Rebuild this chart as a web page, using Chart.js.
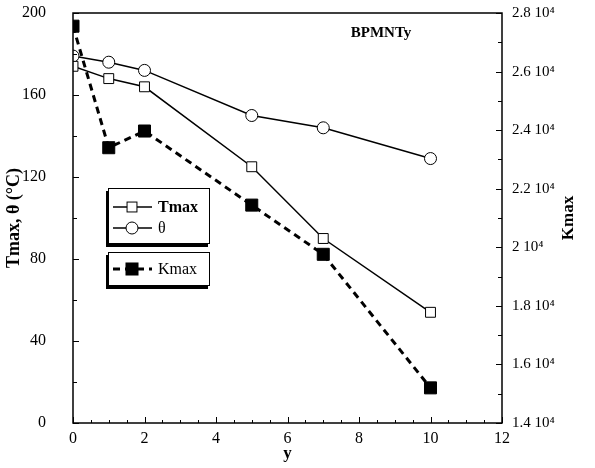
<!DOCTYPE html>
<html>
<head>
<meta charset="utf-8">
<script src="https://cdn.jsdelivr.net/npm/chart.js@4.4.1/dist/chart.umd.min.js"></script>
<style>
  html, body { margin: 0; padding: 0; background: #fff; }
  #wrap { width: 595px; height: 468px; }
</style>
</head>
<body>
<div id="wrap"><canvas id="chart" width="595" height="468"></canvas></div>
<script>
// composition y and measured values
const yValues = [0, 1, 2, 5, 7, 10];
const tmaxValues = [174, 168, 164, 125, 90, 54];
const thetaValues = [179, 176, 172, 150, 144, 129];
const kmaxValues = [27550, 23400, 23970, 21440, 19760, 15200];

const xTicks = [0, 2, 4, 6, 8, 10, 12];
const leftTicks = [0, 40, 80, 120, 160, 200];
const rightTicks = [14000, 16000, 18000, 20000, 22000, 24000, 26000, 28000];

const SERIF = '"Liberation Serif", "DejaVu Serif", serif';

function pts(vals) {
    return yValues.map((x, i) => ({ x: x, y: vals[i] }));
}

// fixed axis boxes so the plot area lands where it should
function fitVertical(width) {
    return s => { s.width = width; s.paddingTop = 0; s.paddingBottom = 0; };
}

// frame, inward ticks, legend boxes and the sample label
const decorPlugin = {
    id: 'decor',
    afterDraw(chart) {
        const ctx = chart.ctx;
        const a = chart.chartArea;
        const xs = chart.scales.x, yl = chart.scales.y, yr = chart.scales.y2;
        ctx.save();
        ctx.strokeStyle = '#000';
        ctx.lineWidth = 1.5;
        ctx.strokeRect(a.left, a.top, a.right - a.left, a.bottom - a.top);

        ctx.lineWidth = 1;
        ctx.beginPath();
        for (let v = 0; v <= 12.001; v += 0.5) {
            const px = Math.round(xs.getPixelForValue(v)) + 0.5;
            const len = (Math.abs(v % 2) < 0.01) ? 6 : 3;
            ctx.moveTo(px, a.bottom);
            ctx.lineTo(px, a.bottom - len);
        }
        for (let v = 0; v <= 200; v += 20) {
            const py = Math.round(yl.getPixelForValue(v)) + 0.5;
            const len = (v % 40 === 0) ? 6 : 4;
            ctx.moveTo(a.left, py);
            ctx.lineTo(a.left + len, py);
        }
        for (let v = 14000; v <= 28000; v += 1000) {
            const py = Math.round(yr.getPixelForValue(v)) + 0.5;
            const len = (v % 2000 === 0) ? 6 : 4;
            ctx.moveTo(a.right, py);
            ctx.lineTo(a.right - len, py);
        }
        ctx.stroke();

        // right axis title, reading upward
        ctx.fillStyle = '#000';
        ctx.font = 'bold 17px ' + SERIF;
        ctx.textAlign = 'center';
        ctx.textBaseline = 'middle';
        ctx.translate(569, (a.top + a.bottom) / 2);
        ctx.rotate(-Math.PI / 2);
        ctx.fillText('Kmax', 0, 0);
        ctx.setTransform(1, 0, 0, 1, 0, 0);

        ctx.font = 'bold 15px ' + SERIF;
        ctx.fillText('BPMNTy', 381, 33);

        // legend boxes with a dark offset shadow
        function box(x, y, w, h) {
            ctx.fillStyle = '#000';
            ctx.fillRect(x - 2, y + 3, w, h);
            ctx.fillStyle = '#fff';
            ctx.fillRect(x, y, w, h);
            ctx.strokeStyle = '#000';
            ctx.lineWidth = 1;
            ctx.strokeRect(x + 0.5, y + 0.5, w - 1, h - 1);
        }
        box(108, 188, 102, 56);
        box(108, 252, 102, 34);

        const items = [
            { ds: chart.data.datasets[0], y: 207, bold: true },
            { ds: chart.data.datasets[1], y: 228, bold: false },
            { ds: chart.data.datasets[2], y: 269, bold: false }
        ];
        items.forEach(it => {
            const ds = it.ds;
            ctx.strokeStyle = '#000';
            ctx.lineWidth = ds.borderWidth;
            ctx.setLineDash(ds.borderDash || []);
            ctx.beginPath();
            ctx.moveTo(113, it.y);
            ctx.lineTo(152, it.y);
            ctx.stroke();
            ctx.setLineDash([]);
            ctx.lineWidth = 1;
            ctx.fillStyle = ds.pointBackgroundColor;
            if (ds.pointStyle === 'rect') {
                const s = ds.pointRadius * Math.SQRT1_2;
                ctx.fillRect(132 - s, it.y - s, 2 * s, 2 * s);
                ctx.strokeRect(132 - s, it.y - s, 2 * s, 2 * s);
            } else {
                ctx.beginPath();
                ctx.arc(132, it.y, ds.pointRadius, 0, Math.PI * 2);
                ctx.fill();
                ctx.stroke();
            }
            ctx.fillStyle = '#000';
            ctx.textAlign = 'left';
            ctx.font = (it.bold ? 'bold ' : '') + '16px ' + SERIF;
            ctx.fillText(ds.label, 158, it.y + 1);
        });
        ctx.restore();
    }
};

new Chart(document.getElementById('chart'), {
    type: 'line',
    data: {
        datasets: [
            {
                label: 'Tmax',
                data: pts(tmaxValues),
                yAxisID: 'y',
                borderColor: '#000',
                borderWidth: 1.5,
                pointStyle: 'rect',
                pointRadius: 7,
                pointBackgroundColor: '#fff',
                pointBorderColor: '#000',
                pointBorderWidth: 1,
                tension: 0
            },
            {
                label: 'θ',
                data: pts(thetaValues),
                yAxisID: 'y',
                borderColor: '#000',
                borderWidth: 1.5,
                pointStyle: 'circle',
                pointRadius: 6,
                pointBackgroundColor: '#fff',
                pointBorderColor: '#000',
                pointBorderWidth: 1,
                tension: 0
            },
            {
                label: 'Kmax',
                data: pts(kmaxValues),
                yAxisID: 'y2',
                borderColor: '#000',
                borderWidth: 3,
                borderDash: [7, 5],
                pointStyle: 'rect',
                pointRadius: 8.5,
                pointBackgroundColor: '#000',
                pointBorderColor: '#000',
                pointBorderWidth: 1,
                tension: 0
            }
        ]
    },
    options: {
        responsive: false,
        animation: false,
        layout: { padding: { top: 13, left: 0, right: 0, bottom: 0 } },
        plugins: {
            legend: { display: false },
            tooltip: { enabled: false }
        },
        scales: {
            x: {
                type: 'linear',
                min: 0,
                max: 12,
                afterBuildTicks: s => { s.ticks = xTicks.map(v => ({ value: v })); },
                afterFit: s => { s.height = 45; s.paddingLeft = 0; s.paddingRight = 0; },
                grid: { display: false, drawTicks: false },
                border: { display: false },
                ticks: { color: '#000', padding: 6, font: { family: SERIF, size: 16 } },
                title: { display: true, text: 'y', color: '#000', padding: { top: 0 }, font: { family: SERIF, size: 17, weight: 'bold' } }
            },
            y: {
                position: 'left',
                min: 0,
                max: 200,
                afterBuildTicks: s => { s.ticks = leftTicks.map(v => ({ value: v })); },
                afterFit: fitVertical(73),
                grid: { display: false, drawTicks: false },
                border: { display: false },
                ticks: { color: '#000', padding: 27, font: { family: SERIF, size: 16 } },
                title: { display: true, text: 'Tmax, θ (°C)', color: '#000', padding: { top: 4 }, font: { family: SERIF, size: 18, weight: 'bold' } }
            },
            y2: {
                position: 'right',
                min: 14000,
                max: 28000,
                afterBuildTicks: s => { s.ticks = rightTicks.map(v => ({ value: v })); },
                afterFit: fitVertical(93),
                grid: { display: false, drawTicks: false },
                border: { display: false },
                ticks: {
                    color: '#000',
                    padding: 10,
                    font: { family: SERIF, size: 15 },
                    callback: v => (v / 10000) + ' 10⁴'
                }
            }
        }
    },
    plugins: [decorPlugin]
});
</script>
</body>
</html>
